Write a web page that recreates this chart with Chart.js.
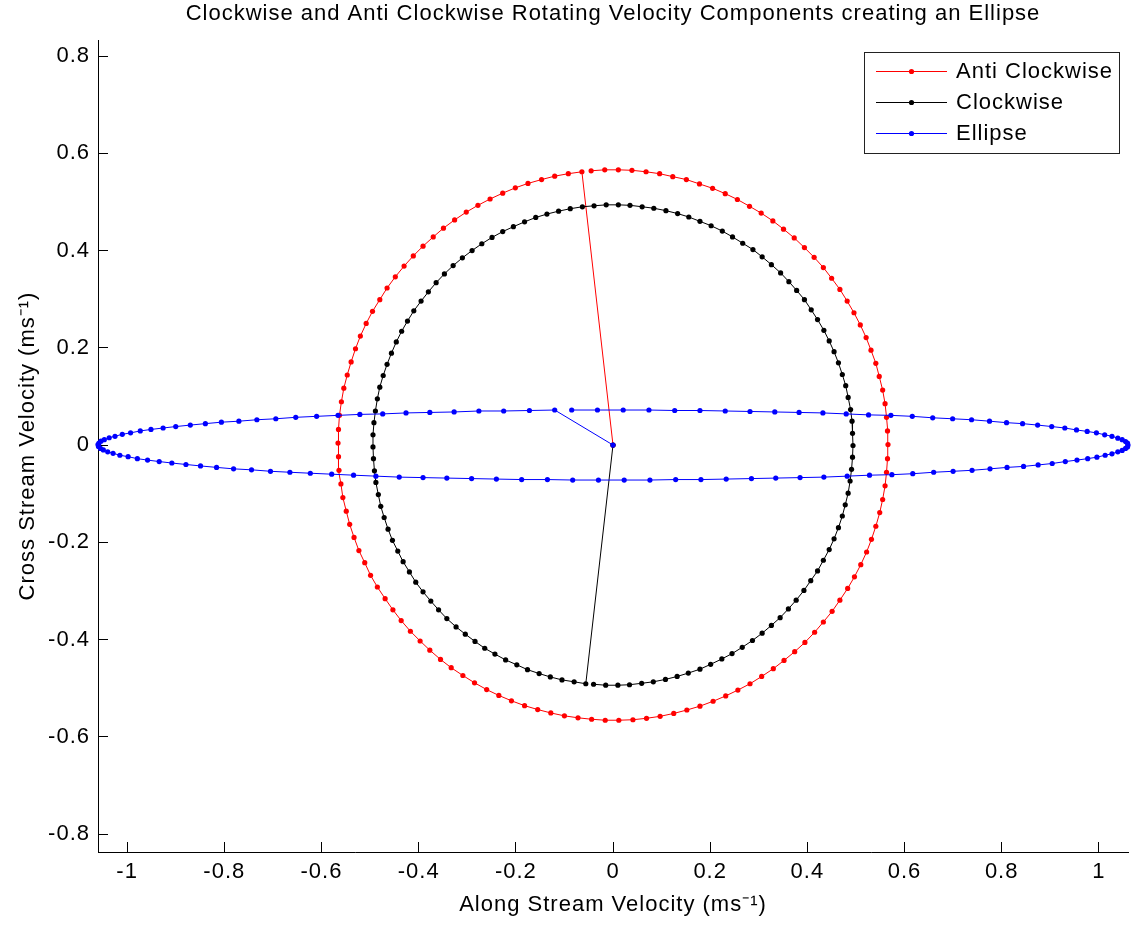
<!DOCTYPE html>
<html>
<head>
<meta charset="utf-8">
<title>Clockwise and Anti Clockwise Rotating Velocity Components</title>
<script src="https://cdn.jsdelivr.net/npm/chart.js@4.4.1/dist/chart.umd.min.js"></script>
<style>
  html, body { margin: 0; padding: 0; background: #ffffff; }
</style>
</head>
<body>
<canvas id="ellipseChart" width="1132" height="928"></canvas>
<script>
// each series starts at the origin (the rotating vector), then walks round the curve
const anti_x = [0,
  -0.064, -0.092, -0.120, -0.147, -0.175, -0.201, -0.227, -0.253, -0.278, -0.302,
  -0.326, -0.349, -0.370, -0.391, -0.411, -0.430, -0.448, -0.465, -0.480, -0.495,
  -0.508, -0.520, -0.530, -0.539, -0.547, -0.554, -0.559, -0.563, -0.565, -0.566,
  -0.565, -0.564, -0.560, -0.556, -0.549, -0.542, -0.533, -0.523, -0.511, -0.499,
  -0.485, -0.469, -0.453, -0.436, -0.417, -0.397, -0.377, -0.355, -0.333, -0.309,
  -0.285, -0.260, -0.235, -0.209, -0.182, -0.155, -0.128, -0.100, -0.072, -0.044,
  -0.016, 0.012, 0.041, 0.069, 0.097, 0.125, 0.152, 0.179, 0.206, 0.232,
  0.257, 0.282, 0.306, 0.330, 0.352, 0.374, 0.395, 0.415, 0.433, 0.451,
  0.467, 0.483, 0.497, 0.510, 0.522, 0.532, 0.541, 0.549, 0.555, 0.560,
  0.563, 0.565, 0.566, 0.565, 0.563, 0.560, 0.555, 0.548, 0.541, 0.531,
  0.521, 0.509, 0.496, 0.482, 0.467, 0.450, 0.433, 0.414, 0.394, 0.373,
  0.351, 0.329, 0.305, 0.281, 0.256, 0.231, 0.205, 0.178, 0.151, 0.123,
  0.096, 0.068, 0.039, 0.011, -0.017, -0.045]
const anti_y = [0,
  0.562, 0.558, 0.553, 0.546, 0.538, 0.529, 0.518, 0.506, 0.493, 0.479,
  0.463, 0.446, 0.428, 0.409, 0.389, 0.368, 0.346, 0.323, 0.299, 0.275,
  0.250, 0.224, 0.198, 0.171, 0.144, 0.117, 0.089, 0.061, 0.032, 0.004,
  -0.024, -0.052, -0.080, -0.108, -0.136, -0.163, -0.190, -0.217, -0.242, -0.268,
  -0.292, -0.316, -0.339, -0.361, -0.383, -0.403, -0.422, -0.441, -0.458, -0.474,
  -0.489, -0.503, -0.515, -0.526, -0.536, -0.544, -0.551, -0.557, -0.561, -0.564,
  -0.566, -0.566, -0.565, -0.562, -0.558, -0.552, -0.545, -0.537, -0.527, -0.516,
  -0.504, -0.491, -0.476, -0.460, -0.443, -0.425, -0.406, -0.385, -0.364, -0.342,
  -0.319, -0.295, -0.271, -0.246, -0.220, -0.194, -0.167, -0.139, -0.112, -0.084,
  -0.056, -0.028, 0.001, 0.029, 0.057, 0.085, 0.113, 0.141, 0.168, 0.195,
  0.221, 0.247, 0.272, 0.296, 0.320, 0.343, 0.365, 0.386, 0.406, 0.426,
  0.444, 0.461, 0.477, 0.491, 0.505, 0.517, 0.528, 0.537, 0.546, 0.552,
  0.558, 0.562, 0.565, 0.566, 0.566, 0.564]

const clock_x = [0,
  -0.056, -0.080, -0.105, -0.129, -0.152, -0.176, -0.198, -0.221, -0.243, -0.264,
  -0.284, -0.304, -0.323, -0.342, -0.359, -0.375, -0.391, -0.406, -0.419, -0.432,
  -0.443, -0.454, -0.463, -0.471, -0.478, -0.483, -0.488, -0.491, -0.493, -0.494,
  -0.494, -0.492, -0.489, -0.485, -0.480, -0.473, -0.465, -0.456, -0.446, -0.435,
  -0.423, -0.410, -0.395, -0.380, -0.364, -0.347, -0.329, -0.310, -0.290, -0.270,
  -0.249, -0.227, -0.205, -0.182, -0.159, -0.136, -0.112, -0.088, -0.063, -0.039,
  -0.014, 0.011, 0.035, 0.060, 0.084, 0.109, 0.133, 0.156, 0.179, 0.202,
  0.225, 0.246, 0.267, 0.288, 0.307, 0.326, 0.345, 0.362, 0.378, 0.394,
  0.408, 0.421, 0.434, 0.445, 0.455, 0.464, 0.472, 0.479, 0.484, 0.489,
  0.492, 0.493, 0.494, 0.493, 0.491, 0.488, 0.484, 0.478, 0.472, 0.464,
  0.455, 0.445, 0.433, 0.421, 0.407, 0.393, 0.377, 0.361, 0.344, 0.326,
  0.307, 0.287, 0.266, 0.245, 0.224, 0.201, 0.179, 0.155, 0.132, 0.108,
  0.083, 0.059, 0.034, 0.010, -0.015, -0.040]
const clock_y = [0,
  -0.491, -0.487, -0.483, -0.477, -0.470, -0.462, -0.452, -0.442, -0.430, -0.418,
  -0.404, -0.389, -0.374, -0.357, -0.339, -0.321, -0.302, -0.282, -0.261, -0.240,
  -0.218, -0.196, -0.173, -0.149, -0.126, -0.102, -0.077, -0.053, -0.028, -0.004,
  0.021, 0.046, 0.070, 0.095, 0.119, 0.143, 0.166, 0.189, 0.212, 0.234,
  0.255, 0.276, 0.296, 0.315, 0.334, 0.352, 0.369, 0.385, 0.400, 0.414,
  0.427, 0.439, 0.449, 0.459, 0.468, 0.475, 0.481, 0.486, 0.490, 0.492,
  0.494, 0.494, 0.493, 0.490, 0.487, 0.482, 0.476, 0.469, 0.460, 0.451,
  0.440, 0.428, 0.415, 0.402, 0.387, 0.371, 0.354, 0.336, 0.318, 0.299,
  0.278, 0.258, 0.236, 0.214, 0.192, 0.169, 0.145, 0.122, 0.098, 0.073,
  0.049, 0.024, -0.001, -0.025, -0.050, -0.074, -0.099, -0.123, -0.146, -0.170,
  -0.193, -0.215, -0.237, -0.259, -0.279, -0.299, -0.319, -0.337, -0.355, -0.371,
  -0.387, -0.402, -0.416, -0.429, -0.440, -0.451, -0.461, -0.469, -0.476, -0.482,
  -0.487, -0.490, -0.493, -0.494, -0.494, -0.492]

const ellipse_x = [0,
  -0.120, -0.172, -0.225, -0.276, -0.327, -0.377, -0.426, -0.474, -0.521, -0.566,
  -0.610, -0.653, -0.694, -0.733, -0.770, -0.806, -0.839, -0.870, -0.900, -0.926,
  -0.951, -0.973, -0.993, -1.010, -1.025, -1.037, -1.047, -1.054, -1.058, -1.060,
  -1.059, -1.055, -1.049, -1.040, -1.029, -1.015, -0.998, -0.979, -0.958, -0.934,
  -0.908, -0.879, -0.849, -0.816, -0.781, -0.744, -0.705, -0.665, -0.623, -0.579,
  -0.534, -0.488, -0.440, -0.391, -0.342, -0.291, -0.240, -0.188, -0.135, -0.083,
  -0.030, 0.023, 0.076, 0.129, 0.181, 0.233, 0.285, 0.335, 0.385, 0.434,
  0.482, 0.528, 0.574, 0.617, 0.660, 0.700, 0.739, 0.776, 0.811, 0.845,
  0.875, 0.904, 0.931, 0.955, 0.977, 0.996, 1.013, 1.027, 1.039, 1.048,
  1.055, 1.059, 1.060, 1.059, 1.055, 1.048, 1.039, 1.027, 1.012, 0.995,
  0.976, 0.954, 0.930, 0.903, 0.874, 0.843, 0.810, 0.775, 0.738, 0.699,
  0.658, 0.616, 0.572, 0.526, 0.480, 0.432, 0.383, 0.333, 0.282, 0.231,
  0.179, 0.127, 0.074, 0.021, -0.032, -0.085]
const ellipse_y = [0,
  0.072, 0.071, 0.070, 0.070, 0.068, 0.067, 0.066, 0.064, 0.063, 0.061,
  0.059, 0.057, 0.054, 0.052, 0.049, 0.047, 0.044, 0.041, 0.038, 0.035,
  0.032, 0.029, 0.025, 0.022, 0.018, 0.015, 0.011, 0.008, 0.004, 0.001,
  -0.003, -0.007, -0.010, -0.014, -0.017, -0.021, -0.024, -0.028, -0.031, -0.034,
  -0.037, -0.040, -0.043, -0.046, -0.049, -0.051, -0.054, -0.056, -0.058, -0.060,
  -0.062, -0.064, -0.066, -0.067, -0.068, -0.069, -0.070, -0.071, -0.071, -0.072,
  -0.072, -0.072, -0.072, -0.071, -0.071, -0.070, -0.069, -0.068, -0.067, -0.066,
  -0.064, -0.062, -0.061, -0.059, -0.056, -0.054, -0.052, -0.049, -0.046, -0.044,
  -0.041, -0.038, -0.034, -0.031, -0.028, -0.025, -0.021, -0.018, -0.014, -0.011,
  -0.007, -0.004, 0.000, 0.004, 0.007, 0.011, 0.014, 0.018, 0.021, 0.025,
  0.028, 0.031, 0.035, 0.038, 0.041, 0.044, 0.046, 0.049, 0.052, 0.054,
  0.056, 0.059, 0.061, 0.062, 0.064, 0.066, 0.067, 0.068, 0.069, 0.070,
  0.071, 0.071, 0.072, 0.072, 0.072, 0.072]

const series_names = ["Anti Clockwise", "Clockwise", "Ellipse"]
const series_colors = ["#ff0000", "#000000", "#0000ff"]

const x_tick_values = [-1, -0.8, -0.6, -0.4, -0.2, 0, 0.2, 0.4, 0.6, 0.8, 1]
const y_tick_values = [-0.8, -0.6, -0.4, -0.2, 0, 0.2, 0.4, 0.6, 0.8]

const x_range = [-1.06, 1.06]
const y_range = [-0.837, 0.833]

const font_family = "'Liberation Sans', Arial, Helvetica, sans-serif"

function to_points(xs, ys)
{
  return xs.map((x, i) => ({ x: x, y: ys[i] }))
}

const all_series = [
  to_points(anti_x, anti_y),
  to_points(clock_x, clock_y),
  to_points(ellipse_x, ellipse_y)
]

// MATLAB draws later lines on top, so the ellipse gets the lowest order
const datasets = all_series.map((points, i) =>
({
  label: series_names[i],
  data: points,
  showLine: true,
  borderColor: series_colors[i],
  backgroundColor: series_colors[i],
  borderWidth: 1,
  pointRadius: 2.6,
  pointBorderWidth: 0,
  pointHoverRadius: 2.6,
  clip: false,
  order: 2 - i
}))

// the old MATLAB text renderer sets its glyphs a little wider than Liberation Sans
const spacing_plugin =
{
  id: "textSpacing",
  beforeUpdate(chart) { chart.ctx.letterSpacing = "1px" },
  beforeDraw(chart) { chart.ctx.letterSpacing = "1px" }
}

// boxed legend in the top right corner of the axes, like MATLAB's
const legend_plugin =
{
  id: "boxLegend",
  afterDraw(chart)
  {
    const ctx = chart.ctx
    const area = chart.chartArea
    const box_width = 255
    const box_height = 101
    const box_left = area.right - 9 - box_width
    const box_top = area.top + 12

    ctx.save()
    ctx.fillStyle = "#ffffff"
    ctx.fillRect(box_left, box_top, box_width, box_height)
    ctx.strokeStyle = "#222222"
    ctx.lineWidth = 1
    ctx.strokeRect(box_left + 0.5, box_top + 0.5, box_width, box_height)

    ctx.font = "22px " + font_family
    ctx.textBaseline = "middle"
    ctx.textAlign = "left"

    series_names.forEach((name, i) =>
    {
      const row_y = box_top + 19.5 + i * 31
      ctx.strokeStyle = series_colors[i]
      ctx.beginPath()
      ctx.moveTo(box_left + 12, row_y)
      ctx.lineTo(box_left + 83, row_y)
      ctx.stroke()

      ctx.fillStyle = series_colors[i]
      ctx.beginPath()
      ctx.arc(box_left + 47.5, row_y, 2.6, 0, Math.PI * 2)
      ctx.fill()

      ctx.fillStyle = "#000000"
      ctx.fillText(name, box_left + 92, row_y)
    })
    ctx.restore()
  }
}

const chart_context = document.getElementById("ellipseChart").getContext("2d")

const ellipse_chart = new Chart(chart_context,
{
  type: "scatter",
  data: { datasets: datasets },
  plugins: [spacing_plugin, legend_plugin],
  options:
  {
    responsive: false,
    animation: false,
    events: [],
    layout: { padding: { top: 0, right: 4, bottom: 0, left: 0 } },
    plugins:
    {
      legend: { display: false },
      tooltip: { enabled: false },
      title:
      {
        display: true,
        fullSize: false,
        text: "Clockwise and Anti Clockwise Rotating Velocity Components creating an Ellipse",
        color: "#000000",
        font: { family: font_family, size: 22, weight: "normal" },
        padding: { top: 1, bottom: 12.6 }
      }
    },
    scales:
    {
      x:
      {
        type: "linear",
        min: x_range[0],
        max: x_range[1],
        afterBuildTicks: (scale) => { scale.ticks = x_tick_values.map(v => ({ value: v })) },
        afterFit: (scale) => { scale.height = 76 },
        ticks:
        {
          color: "#000000",
          font: { family: font_family, size: 22 },
          padding: 17,
          maxRotation: 0,
          autoSkip: false,
          callback: (value) => String(value)
        },
        grid: { drawOnChartArea: false, drawTicks: true, tickLength: -10, tickColor: "#000000", tickWidth: 1 },
        border: { display: true, color: "#000000", width: 1 },
        title:
        {
          display: true,
          text: "Along Stream Velocity (ms\u207B\u00B9)",
          color: "#000000",
          font: { family: font_family, size: 22 },
          padding: { top: 0, bottom: 10 }
        }
      },
      y:
      {
        type: "linear",
        min: y_range[0],
        max: y_range[1],
        afterBuildTicks: (scale) => { scale.ticks = y_tick_values.map(v => ({ value: v })) },
        afterFit: (scale) => { scale.width = 98 },
        ticks:
        {
          color: "#000000",
          font: { family: font_family, size: 22 },
          padding: 18,
          autoSkip: false,
          callback: (value) => String(value)
        },
        grid: { drawOnChartArea: false, drawTicks: true, tickLength: -10, tickColor: "#000000", tickWidth: 1 },
        border: { display: true, color: "#000000", width: 1 },
        title:
        {
          display: true,
          text: "Cross Stream Velocity (ms\u207B\u00B9)",
          color: "#000000",
          font: { family: font_family, size: 22 },
          padding: { top: 15, bottom: 0 }
        }
      }
    }
  }
})
</script>
</body>
</html>
